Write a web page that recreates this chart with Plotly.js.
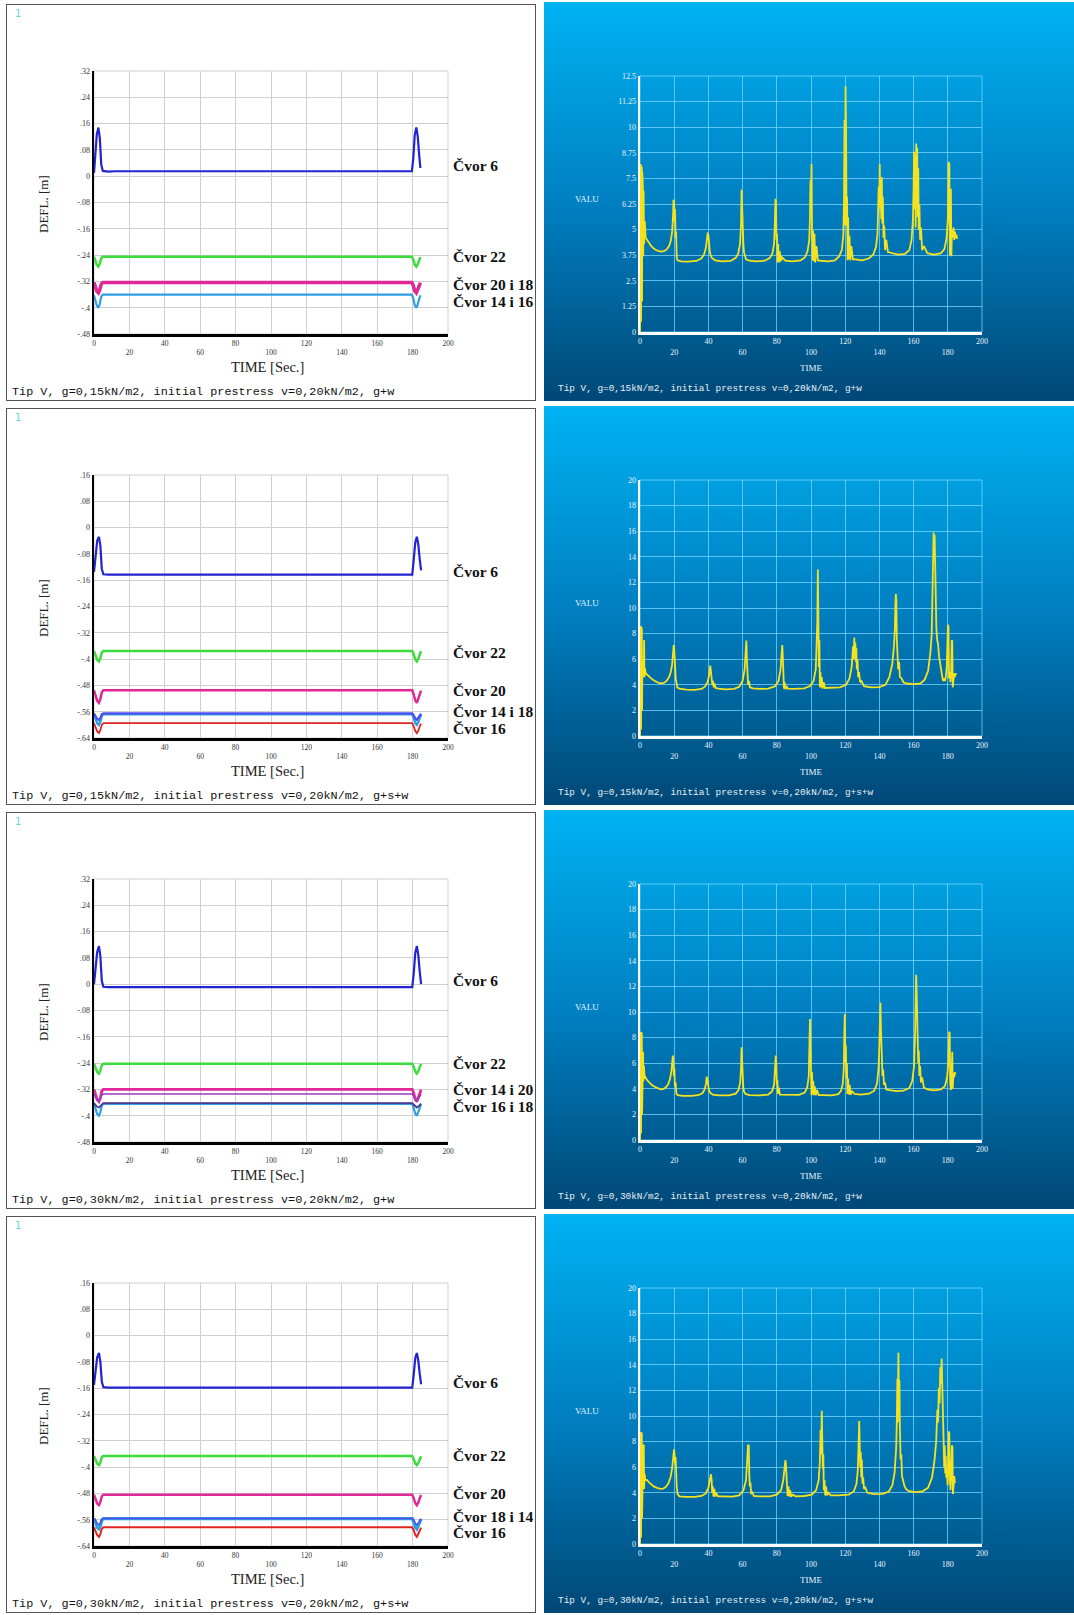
<!DOCTYPE html>
<html><head><meta charset="utf-8">
<script src="https://cdn.plot.ly/plotly-3.0.1.min.js"></script>
<style>
body{margin:0;background:#fff;}
#wrap{position:relative;width:1074px;height:1615px;overflow:hidden;background:#fff;}
.lp{position:absolute;left:6px;width:530px;height:397px;background:#fff;outline:1.5px solid #555;outline-offset:-1.5px;}
.rp{position:absolute;left:544px;width:530px;height:399px;background:linear-gradient(to bottom, rgb(0,178,242) 0%, rgb(0,128,194) 50%, rgb(0,72,118) 100%);}
</style></head>
<body>
<div id="wrap">
<div id="L1" class="lp" style="top:4px"></div>
<div id="R1" class="rp" style="top:2px"></div>
<div id="L2" class="lp" style="top:408px"></div>
<div id="R2" class="rp" style="top:406px"></div>
<div id="L3" class="lp" style="top:812px"></div>
<div id="R3" class="rp" style="top:810px"></div>
<div id="L4" class="lp" style="top:1216px"></div>
<div id="R4" class="rp" style="top:1214px"></div>
</div>
<script>
// ---------- shared tick labels ----------
const X_TICKVALS = [0,20,40,60,80,100,120,140,160,180,200];
const X_TICKTEXT = ['0','<br>20','40','<br>60','80','<br>100','120','<br>140','160','<br>180','200'];
const LY_A_VALS = [-0.48,-0.4,-0.32,-0.24,-0.16,-0.08,0,0.08,0.16,0.24,0.32];
const LY_A_TEXT = ['-.48','-.4','-.32','-.24','-.16','-.08','0','.08','.16','.24','.32'];
const LY_B_VALS = [-0.64,-0.56,-0.48,-0.4,-0.32,-0.24,-0.16,-0.08,0,0.08,0.16];
const LY_B_TEXT = ['-.64','-.56','-.48','-.4','-.32','-.24','-.16','-.08','0','.08','.16'];
const RY_A_VALS = [0,1.25,2.5,3.75,5,6.25,7.5,8.75,10,11.25,12.5];
const RY_A_TEXT = ['0','1.25','2.5','3.75','5','6.25','7.5','8.75','10','11.25','12.5'];
const RY_B_VALS = [0,2,4,6,8,10,12,14,16,18,20];
const RY_B_TEXT = ['0','2','4','6','8','10','12','14','16','18','20'];

const CAPTIONS = [
 'Tip V, g=0,15kN/m2, initial prestress v=0,20kN/m2, g+w',
 'Tip V, g=0,15kN/m2, initial prestress v=0,20kN/m2, g+s+w',
 'Tip V, g=0,30kN/m2, initial prestress v=0,20kN/m2, g+w',
 'Tip V, g=0,30kN/m2, initial prestress v=0,20kN/m2, g+s+w'
];

// ---------- left panels: deflection time histories ----------
const L1_t = [0,0.8,1.6,2.5,3.3,4.1,5,8,12,60,120,179.6,180.4,181.2,182.1,182.9,183.7,184.4];
const L1_c6 = [0.01,0.06,0.128,0.148,0.115,0.035,0.016,0.014,0.015,0.015,0.015,0.015,0.055,0.125,0.148,0.122,0.065,0.025];
const L1_c22 = [-0.245,-0.255,-0.27,-0.275,-0.266,-0.25,-0.245,-0.245,-0.245,-0.245,-0.245,-0.245,-0.254,-0.269,-0.275,-0.268,-0.256,-0.246];
const L1_c20i18 = [-0.323,-0.334,-0.35,-0.355,-0.345,-0.328,-0.323,-0.323,-0.323,-0.323,-0.323,-0.323,-0.333,-0.349,-0.355,-0.347,-0.334,-0.324];
const L1_c14i16 = [-0.362,-0.376,-0.394,-0.4,-0.388,-0.366,-0.36,-0.36,-0.36,-0.36,-0.36,-0.36,-0.372,-0.392,-0.4,-0.39,-0.374,-0.362];
const L1_names = ['Čvor 6','Čvor 22','Čvor 20 i 18','Čvor 14 i 16'];
const L1_labelY = [0.033,-0.245,-0.328,-0.38];

const L2_t = [0,0.9,1.8,2.8,3.6,4.4,5.3,8,12,60,120,179.8,180.6,181.5,182.4,183.2,184.0,184.8];
const L2_c6 = [-0.135,-0.09,-0.04,-0.028,-0.055,-0.125,-0.142,-0.143,-0.143,-0.143,-0.143,-0.143,-0.1,-0.045,-0.028,-0.05,-0.095,-0.13];
const L2_c22 = [-0.375,-0.386,-0.402,-0.407,-0.397,-0.38,-0.375,-0.375,-0.375,-0.375,-0.375,-0.375,-0.385,-0.401,-0.407,-0.399,-0.386,-0.376];
const L2_c20 = [-0.495,-0.508,-0.527,-0.533,-0.521,-0.501,-0.495,-0.495,-0.495,-0.495,-0.495,-0.495,-0.507,-0.526,-0.533,-0.523,-0.508,-0.496];
const L2_c18 = [-0.568,-0.579,-0.595,-0.6,-0.59,-0.573,-0.568,-0.568,-0.568,-0.568,-0.568,-0.568,-0.578,-0.594,-0.6,-0.592,-0.579,-0.569];
const L2_c14 = [-0.565,-0.572,-0.582,-0.585,-0.579,-0.568,-0.565,-0.565,-0.565,-0.565,-0.565,-0.565,-0.571,-0.581,-0.585,-0.58,-0.572,-0.566];
const L2_c16 = [-0.595,-0.605,-0.62,-0.625,-0.616,-0.6,-0.595,-0.595,-0.595,-0.595,-0.595,-0.595,-0.604,-0.619,-0.625,-0.618,-0.605,-0.596];
const L2_names = ['Čvor 6','Čvor 22','Čvor 20','Čvor 14 i 18','Čvor 16'];
const L2_labelY = [-0.135,-0.38,-0.495,-0.56,-0.61];

const L3_t = [0,0.9,1.8,2.8,3.6,4.4,5.3,8,12,60,120,179.8,180.6,181.5,182.4,183.2,184.0,184.8];
const L3_c6 = [0.0,0.045,0.098,0.116,0.085,0.01,-0.008,-0.009,-0.009,-0.009,-0.009,-0.009,0.03,0.095,0.116,0.09,0.04,0.0];
const L3_c22 = [-0.242,-0.252,-0.267,-0.272,-0.263,-0.247,-0.242,-0.242,-0.242,-0.242,-0.242,-0.242,-0.251,-0.266,-0.272,-0.265,-0.253,-0.243];
const L3_c14 = [-0.32,-0.333,-0.351,-0.357,-0.345,-0.325,-0.32,-0.32,-0.32,-0.32,-0.32,-0.32,-0.331,-0.35,-0.357,-0.347,-0.333,-0.321];
const L3_c20 = [-0.334,-0.342,-0.353,-0.357,-0.35,-0.337,-0.334,-0.334,-0.334,-0.334,-0.334,-0.334,-0.341,-0.352,-0.357,-0.351,-0.342,-0.335];
const L3_c16 = [-0.364,-0.377,-0.395,-0.4,-0.389,-0.369,-0.364,-0.364,-0.364,-0.364,-0.364,-0.364,-0.376,-0.394,-0.4,-0.391,-0.377,-0.365];
const L3_c18 = [-0.362,-0.367,-0.373,-0.375,-0.371,-0.364,-0.362,-0.362,-0.362,-0.362,-0.362,-0.362,-0.366,-0.372,-0.375,-0.372,-0.367,-0.363];
const L3_names = ['Čvor 6','Čvor 22','Čvor 14 i 20','Čvor 16 i 18'];
const L3_labelY = [0.011,-0.242,-0.32,-0.372];

const L4_t = [0,0.9,1.8,2.8,3.6,4.4,5.3,8,12,60,120,179.8,180.6,181.5,182.4,183.2,184.0,184.8];
const L4_c6 = [-0.15,-0.11,-0.066,-0.053,-0.08,-0.14,-0.157,-0.158,-0.158,-0.158,-0.158,-0.158,-0.12,-0.068,-0.053,-0.075,-0.115,-0.148];
const L4_c22 = [-0.366,-0.376,-0.39,-0.394,-0.386,-0.37,-0.366,-0.366,-0.366,-0.366,-0.366,-0.366,-0.375,-0.389,-0.394,-0.388,-0.377,-0.367];
const L4_c20 = [-0.484,-0.495,-0.511,-0.516,-0.506,-0.489,-0.484,-0.484,-0.484,-0.484,-0.484,-0.484,-0.494,-0.51,-0.516,-0.508,-0.495,-0.485];
const L4_c18 = [-0.557,-0.567,-0.583,-0.588,-0.579,-0.562,-0.557,-0.557,-0.557,-0.557,-0.557,-0.557,-0.566,-0.582,-0.588,-0.58,-0.568,-0.558];
const L4_c14 = [-0.556,-0.562,-0.572,-0.575,-0.57,-0.559,-0.556,-0.556,-0.556,-0.556,-0.556,-0.556,-0.561,-0.571,-0.575,-0.571,-0.563,-0.557];
const L4_c16 = [-0.583,-0.593,-0.607,-0.612,-0.604,-0.588,-0.583,-0.583,-0.583,-0.583,-0.583,-0.583,-0.592,-0.606,-0.612,-0.605,-0.594,-0.584];
const L4_names = ['Čvor 6','Čvor 22','Čvor 20','Čvor 18 i 14','Čvor 16'];
const L4_labelY = [-0.142,-0.366,-0.481,-0.551,-0.6];

// ---------- right panels: VALU time histories [time, value] ----------
const R1_pts = [[0,0],[0.15,8.2],[0.3,0.3],[0.45,8.2],[0.6,0.5],[0.75,8.1],[0.9,0.8],[1.05,8.0],[1.2,1.5],[1.35,7.8],[1.5,3.6],[1.7,7.0],[1.9,3.7],[2.1,6.9],[2.4,4.3],[2.8,5.4],[3.3,4.6],[4,4.5],[5,4.35],[6.5,4.2],[8,4.08],[10,3.98],[12,3.93],[14,3.95],[15.5,4.02],[17,4.2],[18,4.45],[18.8,4.9],[19.3,5.6],[19.6,6.45],[19.9,6.4],[20.2,5.4],[20.5,6.0],[20.8,4.6],[21.1,4.9],[21.5,3.6],[22,3.5],[24,3.45],[28,3.44],[33,3.47],[36,3.6],[37.5,3.8],[38.5,4.1],[39.2,4.55],[39.6,4.85],[40,4.7],[40.4,4.2],[40.8,3.95],[41.3,3.75],[42,3.62],[44,3.5],[48,3.45],[53,3.47],[56,3.62],[57.5,3.85],[58.5,4.3],[59.1,5.3],[59.4,6.95],[59.7,6.2],[60,5.0],[60.4,4.4],[60.8,3.9],[61.3,3.7],[62,3.55],[64,3.48],[68,3.45],[73,3.48],[76,3.62],[77.5,3.85],[78.4,4.3],[78.9,5.4],[79.2,6.5],[79.5,6.4],[79.8,4.5],[80.1,4.8],[80.4,3.4],[80.8,4.3],[81.2,3.4],[81.7,3.95],[82.3,3.45],[83,3.65],[85,3.48],[89,3.45],[94,3.5],[96.5,3.65],[98,3.95],[99,4.5],[99.4,5.6],[99.7,7.4],[100,6.0],[100.3,8.2],[100.6,5.0],[100.9,3.5],[101.2,4.95],[101.6,3.45],[102,4.8],[102.5,3.4],[103.2,4.2],[104,3.5],[106,3.48],[110,3.45],[114,3.5],[116.5,3.7],[118,4.0],[118.9,4.7],[119.3,6.3],[119.6,10.35],[119.9,5.2],[120.2,12.0],[120.5,9.9],[120.8,5.2],[121.1,6.6],[121.4,3.5],[121.7,5.6],[122.1,3.55],[122.5,4.7],[123,3.5],[123.6,4.2],[124.5,3.55],[126,3.55],[130,3.5],[134,3.6],[136.5,3.8],[138,4.15],[138.9,4.8],[139.3,5.8],[139.6,7.1],[139.9,6.2],[140.2,8.2],[140.5,6.0],[140.8,7.0],[141.1,5.5],[141.4,7.55],[141.7,5.3],[142,6.6],[142.4,4.6],[142.8,5.2],[143.3,4.0],[144,4.5],[145,3.9],[147,3.85],[151,3.78],[155,3.82],[157.5,4.0],[158.8,4.5],[159.6,5.5],[160,7.0],[160.3,8.8],[160.6,6.0],[160.9,8.6],[161.2,5.1],[161.5,9.2],[161.8,6.3],[162.1,9.0],[162.4,5.6],[162.7,8.0],[163,5.0],[163.4,6.2],[163.8,4.5],[164.3,5.1],[165,4.0],[166,4.2],[168,3.85],[172,3.78],[176,3.85],[178,4.05],[179.3,4.6],[180.1,5.6],[180.5,8.3],[180.9,8.2],[181.2,3.75],[181.5,5.6],[181.8,7.0],[182.1,3.7],[182.4,5.0],[182.7,4.9],[183,4.6],[183.4,5.1],[183.8,4.5],[184.2,4.9],[184.6,4.6],[185,4.75],[185.4,4.55]];

const R2_pts = [[0,0],[0.15,8.6],[0.3,0.3],[0.45,8.6],[0.6,0.5],[0.75,8.5],[0.9,1.0],[1.05,8.4],[1.2,2.0],[1.4,6.0],[1.6,4.6],[1.9,5.6],[2.2,4.8],[2.4,7.5],[2.6,4.6],[2.9,5.3],[3.3,4.9],[4,4.8],[5,4.7],[6.5,4.5],[8,4.35],[10,4.2],[12,4.12],[14,4.15],[15.5,4.3],[17,4.6],[18,5.0],[18.8,5.6],[19.3,6.4],[19.7,7.1],[20,6.8],[20.3,5.5],[20.6,6.0],[20.9,4.5],[21.3,4.2],[21.8,3.8],[23,3.7],[27,3.62],[32,3.6],[36,3.68],[38,3.85],[39.5,4.2],[40.5,4.8],[41.1,5.5],[41.5,5.0],[41.9,4.4],[42.3,4.0],[42.7,4.3],[43.1,3.8],[43.6,4.1],[44.2,3.75],[46,3.7],[50,3.65],[55,3.68],[58,3.85],[60,4.3],[61.2,5.2],[61.8,6.6],[62.2,7.45],[62.5,6.0],[62.8,4.6],[63.2,4.0],[63.7,4.3],[64.3,3.8],[66,3.72],[70,3.68],[75,3.7],[79,3.88],[81,4.3],[82.2,5.2],[82.8,6.4],[83.2,7.1],[83.5,6.2],[83.8,4.5],[84.2,3.7],[84.6,4.2],[85.1,3.65],[85.7,3.9],[86.5,3.7],[90,3.68],[96,3.72],[99.5,3.9],[101.5,4.3],[102.8,5.2],[103.4,7.0],[103.7,9.0],[104,13.0],[104.3,8.2],[104.6,5.4],[104.9,7.5],[105.2,3.8],[105.5,5.0],[105.9,3.8],[106.3,4.6],[106.8,3.7],[107.4,4.2],[108.2,3.75],[111,3.75],[117,3.8],[120.5,4.0],[122.5,4.5],[123.8,5.4],[124.6,7.0],[125,6.0],[125.3,7.7],[125.6,6.2],[125.9,7.3],[126.2,5.8],[126.5,6.9],[126.8,5.2],[127.2,6.0],[127.6,4.6],[128.1,5.0],[128.7,4.2],[129.5,4.3],[131,3.9],[135,3.8],[140,3.82],[143.5,4.0],[145.8,4.6],[147.5,5.6],[148.5,7.0],[149,8.2],[149.3,10.0],[149.6,11.1],[149.9,10.6],[150.2,7.5],[150.6,6.5],[151,5.2],[151.5,5.8],[152,4.6],[153,4.5],[154,4.2],[156,4.1],[160,4.05],[164,4.1],[166.5,4.4],[168.5,5.1],[169.8,6.5],[170.6,8.0],[171,11.5],[171.4,14.2],[171.7,15.9],[172,14.8],[172.3,15.7],[172.6,13.5],[172.9,10.5],[173.3,8.5],[173.8,7.5],[174.3,7.2],[174.9,6.2],[175.5,5.6],[176.2,5.0],[176.8,4.6],[177.3,4.3],[177.8,4.5],[178.3,4.3],[178.8,4.6],[179.4,5.4],[179.8,7.0],[180.1,8.7],[180.4,8.5],[180.7,4.5],[181.1,5.0],[181.5,4.2],[181.9,4.7],[182.3,7.5],[182.6,7.4],[182.9,3.8],[183.3,4.8],[183.7,4.9],[184.1,4.6],[184.5,4.9],[184.9,4.75]];

const R3_pts = [[0,0],[0.15,8.45],[0.3,0.3],[0.45,8.45],[0.6,0.5],[0.75,8.4],[0.9,1.0],[1.05,8.3],[1.2,2.0],[1.4,6.9],[1.6,4.4],[1.8,6.9],[2.0,4.6],[2.3,5.8],[2.7,4.8],[3.2,4.9],[4,4.7],[5,4.55],[6.5,4.35],[8,4.2],[10,4.05],[12,3.95],[13.5,3.97],[15,4.1],[16.5,4.35],[17.6,4.8],[18.4,5.4],[18.9,6.1],[19.2,6.6],[19.5,6.2],[19.8,5.0],[20.1,5.6],[20.4,4.2],[20.8,4.5],[21.3,3.6],[22,3.5],[25,3.45],[30,3.44],[34,3.5],[36.5,3.65],[37.8,3.95],[38.6,4.4],[39,4.95],[39.4,4.7],[39.8,4.2],[40.3,3.9],[41,3.7],[42.5,3.55],[46,3.48],[52,3.48],[56,3.62],[57.6,3.9],[58.6,4.5],[59.1,5.6],[59.4,7.25],[59.7,6.4],[60,4.8],[60.4,4.1],[60.9,3.75],[61.7,3.6],[64,3.5],[70,3.48],[75,3.55],[77.2,3.8],[78.4,4.3],[79,5.3],[79.4,6.6],[79.7,5.9],[80,4.4],[80.3,4.7],[80.7,3.6],[81.2,4.1],[81.8,3.55],[83,3.55],[87,3.5],[93,3.52],[96.3,3.7],[97.8,4.1],[98.7,5.0],[99.1,7.0],[99.4,9.45],[99.7,7.2],[100,5.2],[100.3,3.5],[100.6,5.3],[100.9,3.6],[101.3,4.6],[101.7,3.5],[102.2,4.2],[102.8,3.5],[103.5,3.9],[104.5,3.5],[107,3.5],[112,3.48],[116,3.58],[117.6,3.85],[118.6,4.4],[119.2,5.6],[119.5,8.5],[119.8,9.85],[120.1,6.0],[120.4,7.4],[120.7,4.8],[121,6.0],[121.3,3.6],[121.7,4.8],[122.1,3.55],[122.6,4.3],[123.2,3.55],[124,3.8],[125.5,3.6],[129,3.55],[134,3.62],[137,3.85],[138.6,4.4],[139.5,5.6],[140,7.5],[140.3,9.0],[140.6,10.75],[140.9,8.7],[141.2,6.6],[141.5,7.2],[141.8,5.0],[142.2,5.5],[142.7,4.3],[143.3,4.5],[144,3.95],[146,3.9],[150,3.82],[154,3.85],[157.5,4.05],[159.2,4.6],[160.3,5.8],[160.9,8.5],[161.2,11.1],[161.5,12.9],[161.8,11.5],[162.1,8.5],[162.4,9.0],[162.7,6.0],[163,7.0],[163.4,5.0],[163.8,5.8],[164.3,4.5],[165,4.9],[166,4.1],[168,3.95],[172,3.88],[176,3.95],[178.3,4.2],[179.6,4.9],[180.4,6.2],[180.8,8.45],[181.1,8.4],[181.4,4.5],[181.8,3.9],[182.2,5.0],[182.6,6.9],[182.9,4.0],[183.3,5.2],[183.7,4.9],[184.1,5.3],[184.4,5.1]];

const R4_pts = [[0,0],[0.15,8.75],[0.3,0.3],[0.45,8.75],[0.6,0.5],[0.75,8.7],[0.9,1.0],[1.05,8.6],[1.2,2.0],[1.4,6.0],[1.6,4.2],[1.9,7.7],[2.2,7.7],[2.4,4.3],[2.7,5.5],[3.1,5.0],[4,5.0],[5,4.85],[6.5,4.65],[8,4.5],[10,4.38],[12,4.3],[13.5,4.32],[15,4.45],[16.5,4.7],[17.8,5.2],[18.8,5.9],[19.5,6.8],[19.9,7.4],[20.2,7.0],[20.5,6.3],[20.8,6.8],[21.1,5.0],[21.5,4.4],[22,3.9],[23,3.72],[27,3.68],[32,3.68],[36,3.75],[38.5,3.95],[40,4.4],[40.9,5.0],[41.5,5.45],[41.9,5.0],[42.2,4.0],[42.6,4.5],[43,3.7],[43.5,4.3],[44,3.7],[44.6,4.0],[45.5,3.72],[48,3.72],[54,3.7],[58,3.8],[60.5,4.2],[62,5.0],[62.8,6.5],[63.2,7.75],[63.6,7.7],[63.9,5.4],[64.2,4.5],[64.6,4.8],[65,3.9],[65.6,4.1],[66.5,3.75],[70,3.72],[76,3.72],[80,3.85],[82.5,4.2],[83.8,5.0],[84.6,6.2],[85,6.55],[85.3,6.3],[85.6,5.0],[85.9,4.2],[86.3,3.75],[86.8,4.5],[87.3,3.7],[87.8,4.2],[88.4,3.7],[89.5,3.85],[91,3.72],[96,3.75],[100.5,3.85],[103,4.2],[104.5,5.0],[105.2,6.5],[105.6,8.9],[105.9,7.0],[106.3,10.4],[106.6,8.0],[106.9,5.9],[107.2,7.0],[107.5,4.2],[107.9,5.0],[108.3,3.8],[108.8,4.5],[109.4,3.8],[110.2,4.0],[111.5,3.8],[116,3.8],[122,3.85],[125,4.1],[126.6,4.7],[127.4,5.8],[127.9,8.5],[128.2,9.6],[128.5,7.6],[128.8,6.0],[129.1,7.2],[129.4,5.2],[129.7,6.6],[130.1,4.7],[130.5,5.2],[131,4.3],[131.8,4.4],[133,4.0],[137,3.9],[142,3.92],[145.5,4.1],[147.6,4.6],[148.9,5.6],[149.8,7.5],[150.2,9.6],[150.5,12.9],[150.8,9.5],[151.1,14.95],[151.4,12.0],[151.7,12.8],[152,9.0],[152.4,6.6],[152.8,7.0],[153.2,5.3],[153.8,5.0],[154.5,4.6],[155.5,4.3],[157,4.15],[161,4.05],[165,4.1],[168.5,4.4],[170.8,5.2],[172.2,6.5],[173.2,8.0],[173.9,10.5],[174.3,9.5],[174.8,12.2],[175.2,11.0],[175.6,13.8],[176,12.5],[176.4,14.5],[176.7,13.0],[177,11.0],[177.3,8.5],[177.6,9.0],[177.9,6.0],[178.2,7.7],[178.5,5.5],[178.8,6.9],[179.1,5.2],[179.5,5.5],[179.9,4.6],[180.3,6.5],[180.6,8.8],[180.9,8.6],[181.2,5.0],[181.6,4.2],[182,5.5],[182.4,7.7],[182.7,7.6],[183,3.9],[183.4,5.0],[183.8,5.3],[184.1,4.8],[184.4,4.85]];

// ---------- styling ----------
const BLUE='#2323d2', GREEN='#3ddc3d', MAGENTA='#e02896', LBLUE='#2f9fe2', RED='#e02424', VIOLET='#4d4df0', PURPLE='#9a3cc8', DARK='#4b3a8c';
const SERIF='Liberation Serif, Times New Roman, serif';
const MONO='Liberation Mono, Courier New, monospace';
const CFG={staticPlot:true, displayModeBar:false};

// left geometry
const LW=530, LH=397, LM={l:88,r:88,t:67,b:67};
const LPW=LW-LM.l-LM.r, LPH=LH-LM.t-LM.b;

function leftPanel(id, t, series, yvals, ytext, names, labelY, caption){
  const traces = series.map(s=>({x:t, y:s.v, type:'scatter', mode:'lines',
      line:{color:s.c, width:s.w}, hoverinfo:'skip'}));
  const ann = [];
  names.forEach((n,i)=>ann.push({text:'<b>'+n+'</b>', xref:'paper', yref:'y', x:1+3/LPW, y:labelY[i],
     xanchor:'left', yanchor:'middle', showarrow:false, font:{family:SERIF, size:15.5, color:'#111'}}));
  ann.push({text:'1', xref:'paper', yref:'paper', x:(7-LM.l)/LPW, y:1+(LM.t-9)/LPH, xanchor:'left', yanchor:'middle',
     showarrow:false, font:{family:'DejaVu Sans, sans-serif', size:10, color:'#5fd8d8'}});
  ann.push({text:'DEFL. [m]', xref:'paper', yref:'paper', x:(37-LM.l)/LPW, y:1-(200-LM.t)/LPH, textangle:-90,
     xanchor:'center', yanchor:'middle', showarrow:false, font:{family:SERIF, size:13, color:'#222'}});
  ann.push({text:'TIME [Sec.]', xref:'paper', yref:'paper', x:0.49, y:-33/LPH, xanchor:'center', yanchor:'middle',
     showarrow:false, font:{family:SERIF, size:14.5, color:'#222'}});
  ann.push({text:caption, xref:'paper', yref:'paper', x:(4-LM.l)/LPW, y:-(388-(LH-LM.b))/LPH, xanchor:'left', yanchor:'middle',
     showarrow:false, font:{family:MONO, size:11.8, color:'#111'}});
  const layout = {
    width:LW, height:LH, margin:LM, showlegend:false,
    paper_bgcolor:'rgba(0,0,0,0)', plot_bgcolor:'rgba(0,0,0,0)',
    xaxis:{range:[0,200], tickmode:'array', tickvals:X_TICKVALS, ticktext:X_TICKTEXT, ticks:'',
      showgrid:true, gridcolor:'#cfcfcf', gridwidth:1, zeroline:false, showline:true, linecolor:'#000', linewidth:2.5,
      tickfont:{family:SERIF, size:7.5, color:'#333'}, layer:'below traces'},
    yaxis:{range:[yvals[0], yvals[yvals.length-1]], tickmode:'array', tickvals:yvals, ticktext:ytext, ticks:'',
      showgrid:true, gridcolor:'#cfcfcf', gridwidth:1, zeroline:false, showline:true, linecolor:'#000', linewidth:2.5,
      tickfont:{family:SERIF, size:8, color:'#333'}, layer:'below traces'},
    shapes:[{type:'rect', xref:'paper', yref:'paper', x0:0, x1:1, y0:0, y1:1, line:{color:'#cfcfcf', width:1}, layer:'below'}],
    annotations:ann
  };
  Plotly.newPlot(id, traces, layout, CFG);
}

// right geometry
const RW=530, RH=399, RM={l:96,r:92,t:74,b:69};
const RPW=RW-RM.l-RM.r, RPH=RH-RM.t-RM.b;

function rightPanel(id, pts, yvals, ytext, caption){
  const trace = {x:pts.map(p=>p[0]), y:pts.map(p=>p[1]), type:'scatter', mode:'lines',
     line:{color:'#f4e21e', width:1.8}, hoverinfo:'skip'};
  const tf = {family:SERIF, size:8, color:'#e6f4ff'};
  const ann = [
    {text:'VALU', xref:'paper', yref:'paper', x:(587-640)/RPW, y:1-(199-76)/RPH, xanchor:'center', yanchor:'middle',
      showarrow:false, font:{family:SERIF, size:9, color:'#e6f4ff'}},
    {text:'TIME', xref:'paper', yref:'paper', x:0.5, y:-36/RPH, xanchor:'center', yanchor:'middle',
      showarrow:false, font:{family:SERIF, size:9, color:'#e6f4ff'}},
    {text:caption, xref:'paper', yref:'paper', x:(12-RM.l)/RPW, y:-(386-(RH-RM.b))/RPH, xanchor:'left', yanchor:'middle',
      showarrow:false, font:{family:MONO, size:9.4, color:'#e6eef6'}}
  ];
  const layout = {
    width:RW, height:RH, margin:RM, showlegend:false,
    paper_bgcolor:'rgba(0,0,0,0)', plot_bgcolor:'rgba(0,0,0,0)',
    xaxis:{range:[0,200], tickmode:'array', tickvals:X_TICKVALS, ticktext:X_TICKTEXT, ticks:'',
      showgrid:true, gridcolor:'rgba(120,215,255,0.75)', gridwidth:1, zeroline:false, showline:true, linecolor:'#ffffff', linewidth:2.5,
      tickfont:tf, layer:'below traces'},
    yaxis:{range:[yvals[0], yvals[yvals.length-1]], tickmode:'array', tickvals:yvals, ticktext:ytext, ticks:'',
      showgrid:true, gridcolor:'rgba(120,215,255,0.75)', gridwidth:1, zeroline:false, showline:true, linecolor:'#ffffff', linewidth:2.5,
      tickfont:tf, layer:'below traces'},
    shapes:[{type:'rect', xref:'paper', yref:'paper', x0:0, x1:1, y0:0, y1:1, line:{color:'rgba(120,215,255,0.75)', width:1}, layer:'below'}],
    annotations:ann
  };
  Plotly.newPlot(id, [trace], layout, CFG);
}

leftPanel('L1', L1_t, [
  {v:L1_c6,c:BLUE,w:2.2},{v:L1_c22,c:GREEN,w:2.5},{v:L1_c20i18,c:MAGENTA,w:3.5},{v:L1_c14i16,c:LBLUE,w:2.2}
], LY_A_VALS, LY_A_TEXT, L1_names, L1_labelY, CAPTIONS[0]);
leftPanel('L2', L2_t, [
  {v:L2_c6,c:BLUE,w:2.2},{v:L2_c22,c:GREEN,w:2.5},{v:L2_c20,c:MAGENTA,w:2.5},{v:L2_c18,c:LBLUE,w:2.5},{v:L2_c14,c:VIOLET,w:2.2},{v:L2_c16,c:RED,w:1.8}
], LY_B_VALS, LY_B_TEXT, L2_names, L2_labelY, CAPTIONS[1]);
leftPanel('L3', L3_t, [
  {v:L3_c6,c:BLUE,w:2.2},{v:L3_c22,c:GREEN,w:2.5},{v:L3_c14,c:MAGENTA,w:2.8},{v:L3_c20,c:PURPLE,w:1.5},{v:L3_c16,c:LBLUE,w:2.2},{v:L3_c18,c:DARK,w:1.8}
], LY_A_VALS, LY_A_TEXT, L3_names, L3_labelY, CAPTIONS[2]);
leftPanel('L4', L4_t, [
  {v:L4_c6,c:BLUE,w:2.2},{v:L4_c22,c:GREEN,w:2.5},{v:L4_c20,c:MAGENTA,w:2.5},{v:L4_c18,c:LBLUE,w:3.2},{v:L4_c14,c:VIOLET,w:1.5},{v:L4_c16,c:RED,w:2}
], LY_B_VALS, LY_B_TEXT, L4_names, L4_labelY, CAPTIONS[3]);

rightPanel('R1', R1_pts, RY_A_VALS, RY_A_TEXT, CAPTIONS[0]);
rightPanel('R2', R2_pts, RY_B_VALS, RY_B_TEXT, CAPTIONS[1]);
rightPanel('R3', R3_pts, RY_B_VALS, RY_B_TEXT, CAPTIONS[2]);
rightPanel('R4', R4_pts, RY_B_VALS, RY_B_TEXT, CAPTIONS[3]);
</script>
</body></html>
